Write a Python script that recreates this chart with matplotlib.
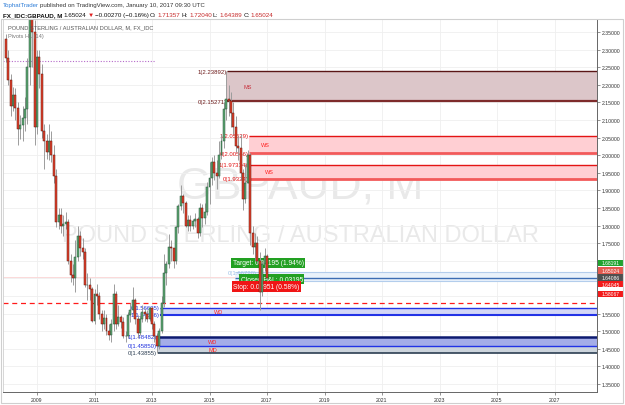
import numpy as np
import pandas as pd
import matplotlib
matplotlib.use("Agg")
import matplotlib.pyplot as plt
import matplotlib.transforms as mtransforms
from matplotlib.patches import Rectangle

plt.rcParams['font.family'] = ['Liberation Sans', 'DejaVu Sans']

# monthly GBPAUD candles, Dec 2007 .. Jan 2017
months = pd.date_range('2007-12-01', periods=110, freq='MS')
opens = [2.330, 2.275, 2.215, 2.140, 2.170, 2.135, 2.075, 2.085, 2.105, 2.130,
         2.250, 2.440, 2.350, 2.080, 2.280, 2.230, 2.070, 2.040, 2.010, 2.040,
         2.000, 1.940, 1.810, 1.830, 1.800, 1.805, 1.810, 1.700, 1.660, 1.650,
         1.710, 1.770, 1.735, 1.725, 1.630, 1.632, 1.620, 1.530, 1.605, 1.600,
         1.550, 1.520, 1.538, 1.500, 1.490, 1.520, 1.605, 1.520, 1.540, 1.525,
         1.485, 1.485, 1.545, 1.560, 1.590, 1.535, 1.495, 1.535, 1.555, 1.550,
         1.535, 1.565, 1.520, 1.485, 1.458, 1.500, 1.580, 1.665, 1.690, 1.740,
         1.735, 1.700, 1.795, 1.855, 1.885, 1.865, 1.800, 1.815, 1.800, 1.812,
         1.818, 1.778, 1.850, 1.822, 1.840, 1.910, 1.935, 1.980, 1.950, 1.940,
         2.000, 2.040, 2.130, 2.160, 2.155, 2.120, 2.080, 2.025, 2.020, 1.950,
         1.875, 1.920, 2.000, 1.780, 1.740, 1.750, 1.700, 1.610, 1.690, 1.71357]
highs = [2.345, 2.300, 2.230, 2.195, 2.190, 2.150, 2.115, 2.140, 2.165, 2.275,
         2.620, 2.500, 2.385, 2.300, 2.300, 2.260, 2.090, 2.060, 2.090, 2.070,
         2.030, 1.960, 1.850, 1.850, 1.830, 1.840, 1.820, 1.720, 1.690, 1.760,
         1.800, 1.785, 1.765, 1.735, 1.665, 1.650, 1.625, 1.620, 1.635, 1.610,
         1.560, 1.560, 1.550, 1.520, 1.535, 1.634, 1.615, 1.575, 1.545, 1.540,
         1.500, 1.555, 1.580, 1.625, 1.595, 1.545, 1.545, 1.575, 1.565, 1.560,
         1.570, 1.570, 1.530, 1.495, 1.510, 1.600, 1.720, 1.700, 1.775, 1.760,
         1.735, 1.800, 1.860, 1.915, 1.890, 1.870, 1.830, 1.830, 1.820, 1.835,
         1.825, 1.865, 1.860, 1.865, 1.925, 1.980, 1.995, 2.000, 1.985, 2.040,
         2.060, 2.150, 2.239, 2.200, 2.180, 2.150, 2.110, 2.055, 2.060, 1.960,
         1.975, 2.015, 2.005, 1.800, 1.780, 1.770, 1.725, 1.700, 1.735, 1.7204]
lows = [2.265, 2.200, 2.110, 2.125, 2.100, 2.030, 2.045, 2.040, 2.070, 2.090,
        2.200, 2.250, 2.030, 2.060, 2.190, 2.050, 1.960, 1.990, 1.985, 1.980,
        1.920, 1.795, 1.790, 1.780, 1.770, 1.790, 1.690, 1.640, 1.630, 1.610,
        1.700, 1.715, 1.705, 1.625, 1.590, 1.590, 1.525, 1.520, 1.575, 1.535,
        1.500, 1.505, 1.490, 1.475, 1.470, 1.500, 1.505, 1.515, 1.510, 1.480,
        1.470, 1.480, 1.525, 1.550, 1.520, 1.480, 1.490, 1.525, 1.530, 1.525,
        1.530, 1.505, 1.470, 1.43855, 1.450, 1.495, 1.570, 1.630, 1.680, 1.700,
        1.680, 1.690, 1.780, 1.845, 1.835, 1.795, 1.785, 1.785, 1.790, 1.795,
        1.765, 1.770, 1.795, 1.805, 1.830, 1.860, 1.915, 1.930, 1.905, 1.935,
        1.990, 2.020, 2.100, 2.110, 2.080, 2.060, 2.010, 1.985, 1.930, 1.845,
        1.865, 1.920, 1.745, 1.720, 1.700, 1.690, 1.560, 1.600, 1.670, 1.64389]
closes = [2.275, 2.215, 2.140, 2.170, 2.135, 2.075, 2.085, 2.105, 2.130, 2.250,
          2.440, 2.350, 2.080, 2.280, 2.230, 2.070, 2.040, 2.010, 2.040, 2.000,
          1.940, 1.810, 1.830, 1.800, 1.805, 1.810, 1.700, 1.660, 1.650, 1.710,
          1.770, 1.735, 1.725, 1.630, 1.632, 1.620, 1.530, 1.605, 1.600, 1.550,
          1.520, 1.538, 1.500, 1.490, 1.520, 1.605, 1.520, 1.540, 1.525, 1.485,
          1.485, 1.545, 1.560, 1.590, 1.535, 1.495, 1.535, 1.555, 1.550, 1.535,
          1.565, 1.520, 1.485, 1.458, 1.500, 1.580, 1.665, 1.690, 1.740, 1.735,
          1.700, 1.795, 1.855, 1.885, 1.865, 1.800, 1.815, 1.800, 1.812, 1.818,
          1.778, 1.850, 1.822, 1.840, 1.910, 1.935, 1.980, 1.950, 1.940, 2.000,
          2.040, 2.130, 2.160, 2.155, 2.120, 2.080, 2.025, 2.020, 1.950, 1.875,
          1.920, 2.000, 1.780, 1.740, 1.750, 1.700, 1.610, 1.690, 1.714, 1.65024]

# pivot zones
zone_names = ['MS', 'WS', 'WS', 'WD', 'WD', 'MD']
zone_start = ['2015-09', '2016-06', '2016-06', '2013-05', '2013-04', '2013-04']
zone_top = [2.23892, 2.05529, 1.97314, 1.56605, 1.48482, 1.45850]
zone_bot = [2.15271, 2.00566, 1.93240, 1.54686, 1.45850, 1.43855]
zone_top_lbl = ['1(2.23892)', '1(2.05529)', '1(1.97314)', '0(1.56605)', '1(1.48482)', '']
zone_bot_lbl = ['0(2.15271)', '0(2.00566)', '0(1.9324)', '1(1.54686)', '0(1.45850)', '0(1.43855)']
zone_fill = ['#dcc6c9', '#ffcfd3', '#ffcfd3', '#d3d7f6', '#a4ade8', '#ccd4dc']
zone_top_c = ['#5a1616', '#e31414', '#e31414', '#2233e6', '#0d1a70', '#a4ade8']
zone_bot_c = ['#7e2b2b', '#f25a5a', '#f25a5a', '#2233e6', '#2233e6', '#2c3e52']
zone_top_w = [1.0, 1.0, 1.0, 1.0, 1.8, 0.0]
zone_bot_w = [1.6, 2.0, 2.0, 1.5, 1.0, 1.2]
zone_txt_c = ['#6d1b1b', '#e31414', '#e31414', '#2233dd', '#2233dd', '#2c3e52']
zone_name_dx = [0.55, 0.42, 0.55, 1.85, 1.75, 1.75]

year_ticks = list(range(2009, 2028, 2))
price_ticks = np.arange(1.35, 2.3501, 0.05)
# scale labels hidden under the badges
hidden_ticks = [1.60, 1.65, 1.70]

# price scale badges
badge_text = ['1.68191', '1.65024', '1.64086', '1.64045', '1.58067']
badge_pos = [1.6938, 1.6719, 1.6531, 1.6341, 1.6057]
badge_col = ['#21a330', '#e25b50', '#4f4f4f', '#f21b1b', '#f21b1b']

W, H = 625, 406
fig = plt.figure(figsize=(W / 100, H / 100), dpi=100)
ax = fig.add_axes([3 / W, 1 - 393 / H, 594 / W, 373 / H])
x_left, x_right = 2007.817, 2028.478
ax.set_xlim(x_left, x_right)
ax.set_ylim(1.3273, 2.3869)

x = np.asarray(months.year + (months.month - 1) / 12.0, dtype=float)
o = np.array(opens); c = np.array(closes)
up = c >= o

def month_x(s):
    t = pd.Timestamp(s)
    return t.year + (t.month - 1) / 12.0 - 0.5 / 12.0

# watermark
ax.text(0.5, 1 - (187 - 20) / 373, 'GBPAUD, M', transform=ax.transAxes, ha='center', va='center',
        fontsize=32, color='#e9e9e9', zorder=0)
ax.text(0.5, 1 - (236 - 20) / 373, 'POUND STERLING / AUSTRALIAN DOLLAR', transform=ax.transAxes,
        ha='center', va='center', fontsize=17, color='#e9e9e9', zorder=0)

# grid + scales
ax.set_xticks(year_ticks)
ax.set_xticklabels([str(y) for y in year_ticks])
ax.set_yticks(price_ticks)
ax.set_yticklabels(['' if any(abs(p - h) < 1e-6 for h in hidden_ticks) else '%.5f' % p
                    for p in price_ticks])
ax.yaxis.tick_right()
ax.grid(True, color='#efefef', lw=0.6, zorder=0)
ax.set_axisbelow(True)
ax.tick_params(axis='both', labelsize=3.7, length=2, width=0.5, color='#666666',
               labelcolor='#333333', pad=1.5)

# pivot zones
for i in range(len(zone_names)):
    x0 = month_x(zone_start[i])
    ax.add_patch(Rectangle((x0, zone_bot[i]), x_right - x0, zone_top[i] - zone_bot[i],
                           facecolor=zone_fill[i], edgecolor='none', zorder=1))
    if zone_top_w[i] > 0:
        ax.hlines(zone_top[i], x0, x_right, color=zone_top_c[i], lw=zone_top_w[i], zorder=2)
    ax.hlines(zone_bot[i], x0, x_right, color=zone_bot_c[i], lw=zone_bot_w[i], zorder=2)
    for lvl, lbl in ((zone_top[i], zone_top_lbl[i]), (zone_bot[i], zone_bot_lbl[i])):
        if lbl:
            ax.text(x0 - 0.03, lvl, lbl, ha='right', va='center', fontsize=4.3,
                    color=zone_txt_c[i], zorder=3)
    ax.text(x0 + zone_name_dx[i], (zone_top[i] + zone_bot[i]) / 2, zone_names[i],
            ha='left', va='center', fontsize=4.0,
            color='#c8303c' if zone_names[i] == 'MS' else '#ff2020', zorder=3)

# trade / misc levels
ax.add_patch(Rectangle((2015.89, 1.6433), x_right - 2015.89, 1.6672 - 1.6433,
                       facecolor='#e9f2fb', edgecolor='none', zorder=1))
ax.hlines([1.6672, 1.6433], 2015.89, x_right, color='#b3cdec', lw=0.8, zorder=2)
ax.hlines(1.6500, 2015.89, x_right, color='#3c6db3', lw=1.0, zorder=2)
ax.hlines(1.6530, x_left, 2015.89, color='#fbd9d9', lw=0.7, zorder=2)
ax.text(2015.64, 1.6672, '0(1.66720)', ha='left', va='center', fontsize=4.3, color='#9cc0e6', zorder=3)
ax.hlines(2.268, x_left, 2013.1, color='#b56ac9', lw=0.8, linestyles=(0, (1, 1.5)), zorder=2)
ax.axhline(1.58067, color='#ff1a1a', lw=0.9, dashes=(4, 3), zorder=2)

lbl_kw = dict(ha='left', va='center', fontsize=4.8, color='white', zorder=4)
ax.text(2015.80, 1.6946, 'Target: 0.03195 (1.94%)',
        bbox=dict(boxstyle='square,pad=0.25', fc='#22a022', ec='none'), **lbl_kw)
ax.text(2016.08, 1.6483, 'Closed P&L: 0.03195',
        bbox=dict(boxstyle='square,pad=0.25', fc='#22a022', ec='none'), **lbl_kw)
ax.text(2015.83, 1.6270, 'Stop: 0.00951 (0.58%)',
        bbox=dict(boxstyle='square,pad=0.25', fc='#f01515', ec='none'), **lbl_kw)

# candles
ax.vlines(x, lows, highs, color='#9c9c9c', lw=0.7, zorder=5)
body = np.maximum(np.abs(c - o), 0.002)
ax.bar(x[up], body[up], bottom=o[up], width=0.068, color='#5ea672',
       edgecolor='#25553a', lw=0.35, zorder=6)
ax.bar(x[~up], body[~up], bottom=c[~up], width=0.068, color='#e2432e',
       edgecolor='#5c150c', lw=0.35, zorder=6)

# spines
for s in ('top', 'left'):
    ax.spines[s].set_color('#d0d0d0'); ax.spines[s].set_linewidth(0.6)
for s in ('right', 'bottom'):
    ax.spines[s].set_color('#666666'); ax.spines[s].set_linewidth(0.7)

# price badges on the scale
blend = mtransforms.blended_transform_factory(ax.transAxes, ax.transData)
half_h = 3.2 / 352.0
for t, p, col in zip(badge_text, badge_pos, badge_col):
    ax.add_patch(Rectangle((1.002, p - half_h), 0.042, 2 * half_h, transform=blend,
                           facecolor=col, edgecolor='none', clip_on=False, zorder=10))
    ax.text(1.023, p, t, transform=blend, ha='center', va='center', fontsize=3.6,
            color='white', clip_on=False, zorder=11)

# outer frame
fig.add_artist(Rectangle((1 / W, 2 / H), 622 / W, 384 / H, transform=fig.transFigure,
                         fill=False, ec='#cfcfcf', lw=0.8))

# header text runs
renderer = fig.canvas.get_renderer()
def runs(px, py, parts, size):
    for s, col, w in parts:
        t = fig.text(px / W, 1 - py / H, s, color=col, fontsize=size, fontweight=w,
                     ha='left', va='center')
        px += t.get_window_extent(renderer).width + 1.2

runs(3, 5.5, [('TophatTrader', '#2f7ed8', 'normal'),
              ('published on TradingView.com, January 10, 2017 09:30 UTC', '#333333', 'normal')], 4.4)
runs(3, 15.5, [('FX_IDC:GBPAUD, M', '#111111', 'bold'), ('1.65024', '#111111', 'normal'),
               ('\u25bc', '#e02020', 'normal'), ('\u22120.00270 (\u22120.16%)', '#111111', 'normal'),
               ('O:', '#111111', 'normal'), ('1.71357', '#c62828', 'normal'),
               ('H:', '#111111', 'normal'), ('1.72040', '#c62828', 'normal'),
               ('L:', '#111111', 'normal'), ('1.64389', '#c62828', 'normal'),
               ('C:', '#111111', 'normal'), ('1.65024', '#c62828', 'normal')], 4.5)

fig.text(8 / W, 1 - 28 / H, 'POUND STERLING / AUSTRALIAN DOLLAR, M, FX_IDC', fontsize=4.1,
         color='#555555', ha='left', va='center')
fig.text(8 / W, 1 - 36.5 / H, 'Pivots HL (14)', fontsize=4.1, color='#777777', ha='left', va='center')

fig.savefig('out.png', dpi=100)
